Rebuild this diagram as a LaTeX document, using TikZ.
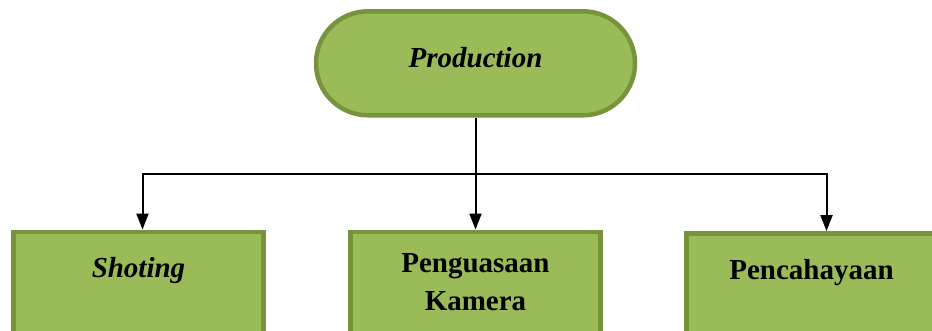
\documentclass[tikz,border=0pt]{standalone}
\usepackage{fontspec}
\setmainfont{Liberation Serif}
\usepackage{xcolor}
\usepackage{tikz}
\usetikzlibrary{positioning,arrows.meta,calc}
\definecolor{olivefill}{HTML}{9BBB59}
\definecolor{olivedraw}{HTML}{77933C}

\begin{document}
\begin{tikzpicture}[
    x=1pt, y=-1pt,
    >={Triangle[length=16pt,width=12pt]},
    stage/.style={rectangle, rounded corners=52pt, draw=olivedraw, fill=olivefill, line width=4.5pt, minimum width=319pt, minimum height=104pt, text depth=12pt, font=\fontsize{29}{38}\selectfont\bfseries\itshape},
    task/.style={rectangle, draw=olivedraw, fill=olivefill, line width=4.5pt, minimum width=250pt, text width=230pt, align=center, inner ysep=23pt, text height=20pt, text depth=80pt, font=\fontsize{29}{38}\selectfont\bfseries},
]
\useasboundingbox (0,0) rectangle (932,331);

% Top stage
\node[stage] (production) at (475.5,63.3) {Production};

% Tasks below
\node[task, inner ysep=21pt, below=112pt of production] (kamera) {Penguasaan\\Kamera};
\node[task, inner ysep=26pt, below left=112pt and 48pt of production] (shoting) {\itshape Shoting};
\node[task, inner ysep=26pt, below right=113.5pt and 47pt of production] (cahaya) {Pencahayaan};

% Connectors
\coordinate (split) at ($(production.south)!0.5!(kamera.north)$);
\draw[->, line width=2pt] (production.south) -- (kamera.north);
\draw[->, line width=2pt] (split) -| ([xshift=4pt]shoting.north);
\draw[->, line width=2pt] (split) -| ([xshift=15pt]cahaya.north);

\end{tikzpicture}
\end{document}
